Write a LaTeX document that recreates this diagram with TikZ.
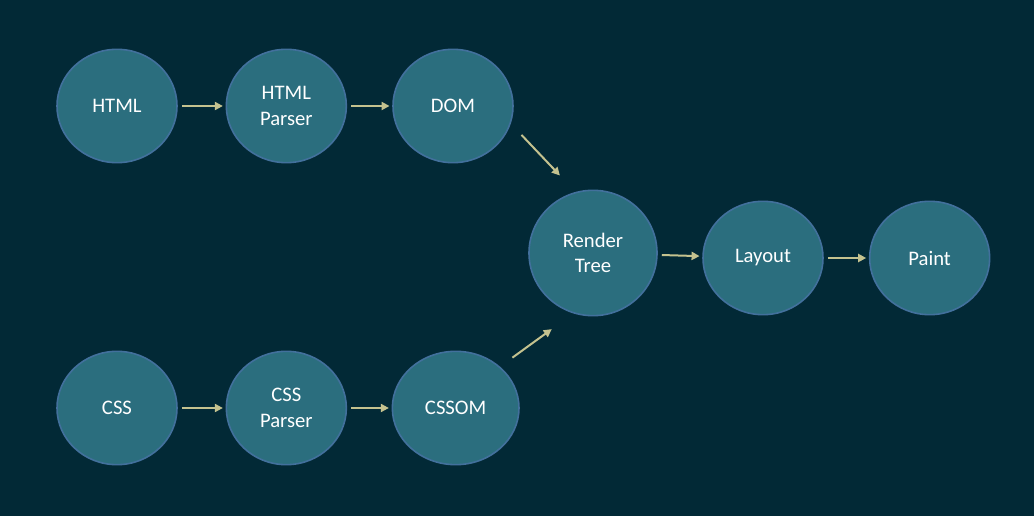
\documentclass[tikz,border=0pt]{standalone}
\usepackage{fontspec}
\setmainfont{Carlito}
\usetikzlibrary{arrows.meta,shapes.geometric}

\definecolor{bgcol}{RGB}{2,41,54}
\definecolor{nodefill}{RGB}{43,110,126}
\definecolor{nodeline}{RGB}{66,112,156}
\definecolor{arrowcol}{RGB}{196,194,143}

\begin{document}
\begin{tikzpicture}[x=0.75pt,y=-0.75pt,node distance=125pt,
		>={Triangle[length=6pt,width=6pt]},
		stage/.style={ellipse,draw=nodeline,line width=1.2pt,fill=nodefill,
			minimum width=90pt,minimum height=85pt,inner sep=0pt,
			text=white,align=center,font=\fontsize{15.5pt}{19pt}\selectfont},
		flow/.style={->,draw=arrowcol,line width=1.5pt,shorten <=3pt,shorten >=2pt}]
	\fill[bgcol] (0,0) rectangle (1034,516);
	\useasboundingbox (0,0) rectangle (1034,516);
	\node[stage] (html) at (117,106) {HTML};
	\node[stage] (hparser) [right of=html,xshift=2pt] {HTML\\Parser};
	\node[stage] (dom) [right of=hparser] {DOM};
	\node[stage] (css) [below of=html,node distance=226.5pt] {CSS};
	\node[stage] (cparser) [right of=css,xshift=2pt] {CSS\\Parser};
	\node[stage,minimum width=95pt] (cssom) [right of=cparser,xshift=2pt] {CSSOM};
	\node[stage,minimum width=96pt,minimum height=94pt] (render) at (593,253) {Render\\Tree};
	\node[stage] (layout) [right of=render,xshift=2.5pt,yshift=-3.75pt] {Layout};
	\node[stage] (paint) [right of=layout] {Paint};
	\path
		(html) edge [flow] (hparser)
		(hparser) edge [flow] (dom)
		(css) edge [flow] (cparser)
		(cparser) edge [flow] (cssom)
		(render) edge [flow] (layout)
		(layout) edge [flow] (paint);
	\path
		(dom.-17) edge [flow,shorten <=11.6pt,shorten >=17pt] (render.106)
		(cssom.43) edge [flow,shorten <=11.4pt,shorten >=20pt] (render.252);
\end{tikzpicture}
\end{document}
